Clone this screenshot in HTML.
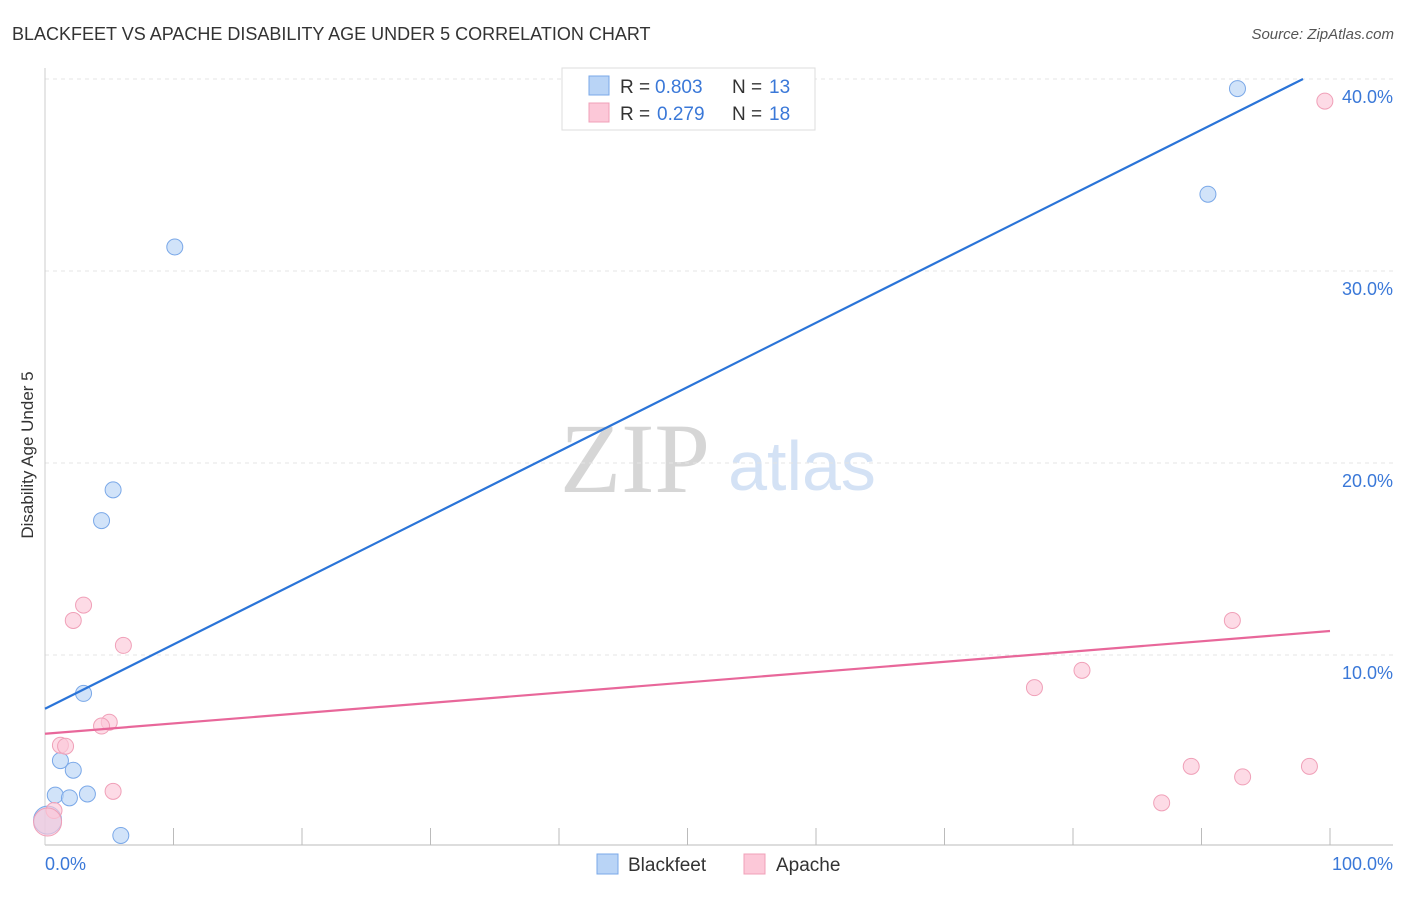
<!DOCTYPE html>
<html><head><meta charset="utf-8"><style>
body{margin:0;background:#fff;font-family:"Liberation Sans",sans-serif;}
</style></head><body>
<svg width="1406" height="892" xmlns="http://www.w3.org/2000/svg" id="chart">
<text x="12" y="40" font-size="18" fill="#333">BLACKFEET VS APACHE DISABILITY AGE UNDER 5 CORRELATION CHART</text>
<text x="1394" y="39" font-size="15" fill="#555" font-style="italic" text-anchor="end">Source: ZipAtlas.com</text>
<text x="33" y="455" font-size="17" fill="#333" text-anchor="middle" transform="rotate(-90 33 455)">Disability Age Under 5</text>
<text x="635" y="492" font-size="100" fill="#d6d6d6" font-family="Liberation Serif" text-anchor="middle">ZIP</text>
<text x="802" y="490" font-size="70" fill="#d4e2f5" text-anchor="middle">atlas</text>
<g id="grid"></g><g id="marks"></g>
<g>
<rect x="562" y="68" width="253" height="62" fill="#fff" stroke="#ddd"/>
<rect x="589" y="76" width="20" height="19" fill="#b9d4f6" stroke="#7aa8e8"/>
<rect x="589" y="103" width="20" height="19" fill="#fcc8d8" stroke="#f0a0b8"/>
<text x="620" y="93" font-size="19" fill="#333">R =</text>
<text x="655" y="93" font-size="19" fill="#3a78d8">0.803</text>
<text x="732" y="93" font-size="19" fill="#333">N =</text>
<text x="769" y="93" font-size="19" fill="#3a78d8">13</text>
<text x="620" y="120" font-size="19" fill="#333">R =</text>
<text x="657" y="120" font-size="19" fill="#3a78d8">0.279</text>
<text x="732" y="120" font-size="19" fill="#333">N =</text>
<text x="769" y="120" font-size="19" fill="#3a78d8">18</text>
</g>
<g>
<rect x="597" y="854" width="21" height="20" fill="#b9d4f6" stroke="#7aa8e8"/>
<text x="628" y="871" font-size="19" fill="#333">Blackfeet</text>
<rect x="744" y="854" width="21" height="20" fill="#fcc8d8" stroke="#f0a0b8"/>
<text x="776" y="871" font-size="19" fill="#333">Apache</text>
</g>
</svg>
<script>
const blueX=[10.1,92.8,90.5,5.3,4.4,3.0,1.2,2.2,0.8,1.9,3.3,5.9,0.2];
const blueY=[31.25,39.5,34.0,18.6,17.0,8.0,4.5,4.0,2.7,2.56,2.76,0.6,1.4];
const pinkX=[99.6,92.4,80.7,77.0,89.2,93.2,98.4,86.9,3.0,2.2,6.1,5.0,4.4,1.2,1.6,5.3,0.7,0.2];
const pinkY=[38.85,11.8,9.2,8.3,4.2,3.65,4.2,2.3,12.6,11.8,10.5,6.5,6.3,5.3,5.25,2.9,1.9,1.3];
const blueTrend=[[0,7.2],[97.9,40]];
const pinkTrend=[[0,5.9],[100,11.25]];
const yTicks=[10,20,30,40];
const xTickLabels=["0.0%","100.0%"];
const NS="http://www.w3.org/2000/svg";
const sx=v=>45+v*12.85, sy=v=>847-v*19.2;
const grid=document.getElementById('grid'), marks=document.getElementById('marks');
function mk(tag,attrs,parent){const e=document.createElementNS(NS,tag);for(const k in attrs)e.setAttribute(k,attrs[k]);parent.appendChild(e);return e;}
yTicks.forEach(t=>{
 const l=mk('line',{x1:45,x2:1393,y1:sy(t),y2:sy(t),stroke:'#e4e4e4','stroke-dasharray':'4 4'},grid);
 
 
 const tx=mk('text',{x:1393,y:sy(t)+24,'font-size':18,fill:'#3a78d8','text-anchor':'end'},grid);
 tx.textContent=t.toFixed(1)+'%';
 
 
});
const ax=mk('line',{x1:45,x2:1393,y1:845,y2:845,stroke:'#bbb'},grid);


const ay=mk('line',{x1:45,x2:45,y1:68,y2:845,stroke:'#ccc'},grid);


for(let i=1;i<=10;i++){const t=mk('line',{x1:sx(i*10),x2:sx(i*10),y1:828,y2:845,stroke:'#bbb'},grid);
 
 }
[[0,'start',45],[1,'end',1393]].forEach(([i,a,x])=>{const t=mk('text',{x:x,y:870,'font-size':18,fill:'#3a78d8','text-anchor':a},grid);
 t.textContent=xTickLabels[i];
 
 });
function pts(X,Y,fill,stroke,name){X.forEach((x,i)=>{const big=i===X.length-1;
 const c=mk('circle',{cx:sx(x),cy:sy(Y[i]),r:big?14:8,fill:fill,'fill-opacity':0.65,stroke:stroke},marks);
 
 });}
pts(blueX,blueY,'#b9d4f6','#7aa8e8','blackfeet-point');
pts(pinkX,pinkY,'#fcc8d8','#f0a0b8','apache-point');
function tl(T,col,name){const l=mk('line',{x1:sx(T[0][0]),y1:sy(T[0][1]),x2:sx(T[1][0]),y2:sy(T[1][1]),stroke:col,'stroke-width':2.2},marks);
 
 }
tl(blueTrend,'#2a74d8','blackfeet-trendline');
tl(pinkTrend,'#e8679a','apache-trendline');
</script>
</body></html>
